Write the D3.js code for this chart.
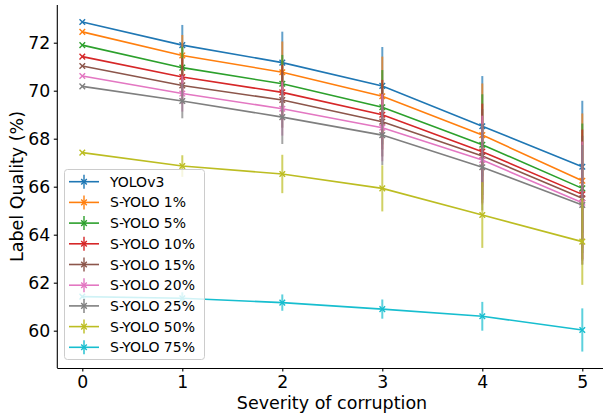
<!DOCTYPE html>
<html>
<head>
<meta charset="utf-8">
<script src="https://cdn.jsdelivr.net/npm/d3@7"></script>
<style>
	body { margin:0; background:#fff; }
	svg { font-family:'DejaVu Sans', sans-serif; }
</style>
</head>
<body>
<svg class="lineChart" width="603" height="414"></svg>
<script>
// severity levels on the x axis
var severity = [0,1,2,3,4,5];

var seriesNames = ['YOLOv3','S-YOLO 1%','S-YOLO 5%','S-YOLO 10%','S-YOLO 15%','S-YOLO 20%','S-YOLO 25%','S-YOLO 50%','S-YOLO 75%'];

// mean label quality (%)
var yolov3  = [72.86, 71.90, 71.17, 70.20, 68.52, 66.83];
var syolo1  = [72.45, 71.47, 70.77, 69.77, 68.15, 66.25];
var syolo5  = [71.90, 70.96, 70.29, 69.31, 67.75, 65.93];
var syolo10 = [71.42, 70.57, 69.93, 69.00, 67.46, 65.68];
var syolo15 = [71.03, 70.22, 69.61, 68.71, 67.28, 65.52];
var syolo20 = [70.61, 69.88, 69.25, 68.46, 67.11, 65.33];
var syolo25 = [70.18, 69.57, 68.90, 68.15, 66.81, 65.24];
var syolo50 = [67.42, 66.86, 66.53, 65.93, 64.82, 63.71];
var syolo75 = [61.42, 61.35, 61.17, 60.90, 60.60, 60.03];

// error (std) per point
var yolov3Err  = [0, 0.84, 1.29, 1.62, 2.09, 2.75];
var syolo1Err  = [0, 0.85, 1.28, 1.65, 2.15, 2.80];
var syolo5Err  = [0, 0.87, 1.20, 1.55, 2.10, 2.70];
var syolo10Err = [0, 0.80, 1.15, 1.45, 2.00, 2.70];
var syolo15Err = [0, 0.78, 1.15, 1.45, 1.95, 2.60];
var syolo20Err = [0, 0.75, 1.12, 1.40, 1.85, 2.55];
var syolo25Err = [0, 0.72, 1.12, 1.25, 1.80, 2.50];
var syolo50Err = [0, 0.45, 0.80, 0.96, 1.37, 1.80];
var syolo75Err = [0, 0.25, 0.34, 0.40, 0.60, 0.90];

var yTicks = [60,62,64,66,68,70,72];

var means = [yolov3,syolo1,syolo5,syolo10,syolo15,syolo20,syolo25,syolo50,syolo75];
var errs = [yolov3Err,syolo1Err,syolo5Err,syolo10Err,syolo15Err,syolo20Err,syolo25Err,syolo50Err,syolo75Err];

var data = seriesNames.map(function(name,i){
	return {
		name:name,
		points:severity.map(function(s,j){ return {x:s, y:means[i][j], e:errs[i][j]}; })
	};
});

// tab10 without the purple
var colGen = d3.scaleOrdinal(['#1f77b4','#ff7f0e','#2ca02c','#d62728','#8c564b','#e377c2','#7f7f7f','#bcbd22','#17becf']);

var xScale = d3.scaleLinear()
				.domain([-0.25,5.25])
				.range([57.3,607.3]);

var yScale = d3.scaleLinear()
				.domain([58.445,73.571])
				.range([368,5]);

var chart = d3.select('.lineChart');

var lineGen = d3.line()
				.x(function(d){ return xScale(d.x); })
				.y(function(d){ return yScale(d.y); });

function drawX(g,x,y,r,col){
	g.append('path')
		.attr('d','M'+(x-r)+','+(y-r)+'L'+(x+r)+','+(y+r)+'M'+(x-r)+','+(y+r)+'L'+(x+r)+','+(y-r))
		.attr('stroke',col)
		.attr('stroke-width',1.4)
		.attr('fill','none');
}

var seriesGroups = chart.selectAll('g.series')
					.data(data)
					.enter()
					.append('g')
					.attr('class','series');

seriesGroups.each(function(d,i){
	var g = d3.select(this);
	var col = colGen(i);

	// error bars
	g.selectAll('line.err')
		.data(d.points.filter(function(p){ return p.e > 0; }))
		.enter()
		.append('line')
		.attr('class','err')
		.attr('x1',function(p){ return xScale(p.x); })
		.attr('x2',function(p){ return xScale(p.x); })
		.attr('y1',function(p){ return yScale(p.y + p.e); })
		.attr('y2',function(p){ return yScale(p.y - p.e); })
		.attr('stroke',col)
		.attr('stroke-opacity',0.7)
		.attr('stroke-width',2);

	g.append('path')
		.datum(d.points)
		.attr('d',lineGen)
		.attr('fill','none')
		.attr('stroke',col)
		.attr('stroke-width',1.6);

	d.points.forEach(function(p){
		drawX(g,xScale(p.x),yScale(p.y),2.8,col);
	});
});

//axes
var xAxisGen = d3.axisBottom(xScale).tickValues(severity).tickSize(3.5).tickPadding(4.5).tickFormat(d3.format('d'));
var yAxisGen = d3.axisLeft(yScale).tickValues(yTicks).tickSize(3.5).tickPadding(3.5);

var xAxis = chart.append('g')
	.attr('transform','translate(0,368)')
	.call(xAxisGen);

var yAxis = chart.append('g')
	.attr('transform','translate(57.3,0)')
	.call(yAxisGen);

[xAxis,yAxis].forEach(function(ax){
	ax.selectAll('text').attr('font-size',17.3).attr('font-family','DejaVu Sans').attr('fill','#000');
	ax.select('.domain').attr('stroke','#000').attr('stroke-width',1.1);
	ax.selectAll('.tick line').attr('stroke','#000').attr('stroke-width',1.1);
});
xAxis.select('.domain').attr('d','M57.3,0.5H603');
yAxis.select('.domain').attr('d','M0,5V368');

chart.append('text')
	.text('Severity of corruption')
	.attr('x',332)
	.attr('y',409)
	.attr('text-anchor','middle')
	.attr('font-size',17.5);

chart.append('text')
	.text('Label Quality (%)')
	.attr('transform','translate(23,186.5) rotate(-90)')
	.attr('text-anchor','middle')
	.attr('font-size',17.5);

//legend
var legend = chart.append('g');

legend.append('rect')
	.attr('x',64.5)
	.attr('y',169.5)
	.attr('width',140)
	.attr('height',190)
	.attr('rx',3)
	.attr('fill','white')
	.attr('fill-opacity',0.8)
	.attr('stroke','#cccccc')
	.attr('stroke-width',1);

var legendItems = legend.selectAll('g.item')
					.data(data)
					.enter()
					.append('g')
					.attr('class','item')
					.attr('transform',function(d,i){ return 'translate(0,'+(181.7+i*20.7)+')'; });

legendItems.each(function(d,i){
	var g = d3.select(this);
	var col = colGen(i);
	g.append('line')
		.attr('x1',84).attr('x2',84).attr('y1',-7).attr('y2',7)
		.attr('stroke',col).attr('stroke-opacity',0.7).attr('stroke-width',2);
	g.append('line')
		.attr('x1',69).attr('x2',99).attr('y1',0).attr('y2',0)
		.attr('stroke',col).attr('stroke-width',1.6);
	drawX(g,84,0,2.8,col);
	g.append('text')
		.text(d.name)
		.attr('x',110)
		.attr('y',0)
		.attr('dy','0.36em')
		.attr('font-size',14);
});
</script>
</body>
</html>
